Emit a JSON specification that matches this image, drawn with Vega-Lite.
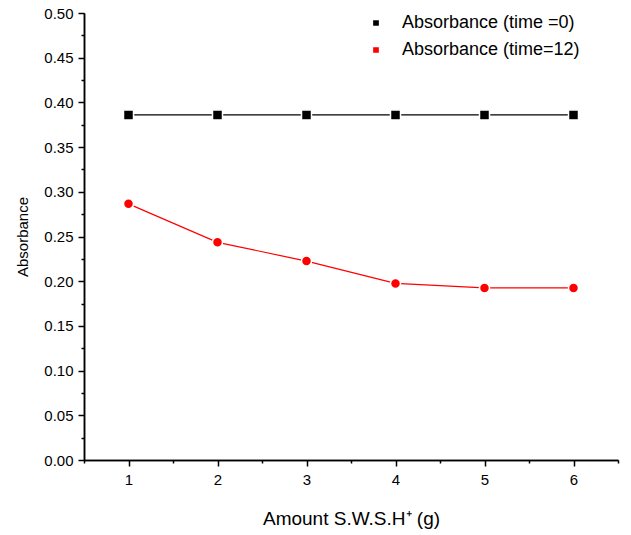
{
  "$schema": "https://vega.github.io/schema/vega-lite/v6.json",
  "width": 534,
  "height": 447,
  "autosize": {"type": "none"},
  "padding": {"left": 84, "top": 13, "right": 13, "bottom": 75},
  "background": "white",
  "config": {
    "view": {"stroke": null},
    "font": "Liberation Sans",
    "axis": {
      "domainColor": "black",
      "domainWidth": 1.5,
      "tickColor": "black",
      "tickWidth": 1.5,
      "labelColor": "black",
      "titleColor": "black",
      "labelFont": "Liberation Sans",
      "titleFont": "Liberation Sans",
      "grid": false
    }
  },
  "datasets": {
    "abs": [
      {"amount": 1, "absorbance": 0.386, "series": "Absorbance (time =0)"},
      {"amount": 2, "absorbance": 0.386, "series": "Absorbance (time =0)"},
      {"amount": 3, "absorbance": 0.386, "series": "Absorbance (time =0)"},
      {"amount": 4, "absorbance": 0.386, "series": "Absorbance (time =0)"},
      {"amount": 5, "absorbance": 0.386, "series": "Absorbance (time =0)"},
      {"amount": 6, "absorbance": 0.386, "series": "Absorbance (time =0)"},
      {"amount": 1, "absorbance": 0.2865, "series": "Absorbance (time=12)"},
      {"amount": 2, "absorbance": 0.2435, "series": "Absorbance (time=12)"},
      {"amount": 3, "absorbance": 0.2225, "series": "Absorbance (time=12)"},
      {"amount": 4, "absorbance": 0.1975, "series": "Absorbance (time=12)"},
      {"amount": 5, "absorbance": 0.1925, "series": "Absorbance (time=12)"},
      {"amount": 6, "absorbance": 0.1925, "series": "Absorbance (time=12)"}
    ]
  },
  "data": {"name": "abs"},
  "layer": [
    {
      "transform": [{"filter": "datum.series === 'Absorbance (time =0)'"}],
      "mark": {"type": "line", "strokeWidth": 1.2, "color": "#000000"},
      "encoding": {
        "x": {
          "field": "amount", "type": "quantitative",
          "scale": {"domain": [0.5, 6.5], "nice": false, "zero": false},
          "axis": {
            "orient": "bottom", "values": [0.5, 1.5, 2.5, 3.5, 4.5, 5.5, 6.5],
            "labels": false, "tickSize": 3, "title": null, "domain": true
          }
        },
        "y": {
          "field": "absorbance", "type": "quantitative",
          "scale": {"domain": [0, 0.5], "nice": false, "zero": true},
          "axis": {
            "orient": "left",
            "values": [0.025, 0.075, 0.125, 0.175, 0.225, 0.275, 0.325, 0.375, 0.425, 0.475],
            "labels": false, "tickSize": 3, "title": null, "domain": true
          }
        }
      }
    },
    {
      "transform": [{"filter": "datum.series === 'Absorbance (time=12)'"}],
      "mark": {"type": "line", "strokeWidth": 1.2, "color": "#ff0000"},
      "encoding": {
        "x": {"field": "amount", "type": "quantitative", "axis": null},
        "y": {"field": "absorbance", "type": "quantitative", "axis": null}
      }
    },
    {
      "transform": [{"filter": "datum.series === 'Absorbance (time =0)'"}],
      "mark": {"type": "point", "shape": "square", "filled": true, "size": 100, "stroke": "white", "strokeWidth": 1.5, "opacity": 1},
      "encoding": {
        "x": {
          "field": "amount", "type": "quantitative",
          "axis": {
            "orient": "bottom", "values": [1, 2, 3, 4, 5, 6], "format": "d",
            "tickSize": 6, "labelFontSize": 15, "labelPadding": 6,
            "title": "Amount S.W.S.H⁺ (g)", "titleFontSize": 19, "titleFontWeight": "normal",
            "titlePadding": 22
          }
        },
        "y": {
          "field": "absorbance", "type": "quantitative",
          "axis": {
            "orient": "left", "values": [0, 0.05, 0.1, 0.15, 0.2, 0.25, 0.3, 0.35, 0.4, 0.45, 0.5],
            "format": ".2f", "tickSize": 6, "labelFontSize": 15, "labelPadding": 5,
            "title": "Absorbance", "titleFontSize": 15, "titleFontWeight": "normal",
            "titlePadding": 13
          }
        },
        "fill": {
          "field": "series", "type": "nominal",
          "scale": {"domain": ["Absorbance (time =0)", "Absorbance (time=12)"], "range": ["#000000", "#ff0000"]},
          "legend": {
            "title": null,
            "orient": "none",
            "legendX": 283,
            "legendY": 1,
            "padding": 0,
            "symbolSize": 16,
            "symbolType": "M-10.25,0H-3.5M3.5,0H10.25M-1.8,-1.8H1.8V1.8H-1.8Z",
            "labelFontSize": 18,
            "labelFont": "Liberation Sans",
            "labelColor": "black",
            "labelOffset": 17,
            "rowPadding": 9,
            "labelLimit": 300,
            "encode": {
              "symbols": {
                "shape": {"condition": {"test": "datum.value === 'Absorbance (time=12)'", "value": "M-10.25,0H-3.5M3.5,0H10.25M-2,0A2,2 0 1,1 2,0A2,2 0 1,1 -2,0Z"}, "value": "M-10.25,0H-3.5M3.5,0H10.25M-1.8,-1.8H1.8V1.8H-1.8Z"},
                "size": {"value": 16},
                "fill": {"condition": {"test": "datum.value === 'Absorbance (time=12)'", "value": "#ff0000"}, "value": "#000000"},
                "stroke": {"condition": {"test": "datum.value === 'Absorbance (time=12)'", "value": "#ff0000"}, "value": "#000000"},
                "strokeWidth": {"value": 1},
                "opacity": {"value": 1},
                "fillOpacity": {"value": 1},
                "strokeOpacity": {"value": 1}
              }
            }
          }
        }
      }
    },
    {
      "transform": [{"filter": "datum.series === 'Absorbance (time=12)'"}],
      "mark": {"type": "point", "shape": "circle", "filled": true, "size": 100, "stroke": "white", "strokeWidth": 1.5, "opacity": 1},
      "encoding": {
        "x": {"field": "amount", "type": "quantitative", "axis": null},
        "y": {"field": "absorbance", "type": "quantitative", "axis": null},
        "fill": {
          "field": "series", "type": "nominal",
          "scale": {"domain": ["Absorbance (time =0)", "Absorbance (time=12)"], "range": ["#000000", "#ff0000"]},
          "legend": {
            "title": null,
            "orient": "none",
            "legendX": 283,
            "legendY": 1,
            "padding": 0,
            "symbolSize": 16,
            "symbolType": "M-10.25,0H-3.5M3.5,0H10.25M-1.8,-1.8H1.8V1.8H-1.8Z",
            "labelFontSize": 18,
            "labelFont": "Liberation Sans",
            "labelColor": "black",
            "labelOffset": 17,
            "rowPadding": 9,
            "labelLimit": 300,
            "encode": {
              "symbols": {
                "shape": {"condition": {"test": "datum.value === 'Absorbance (time=12)'", "value": "M-10.25,0H-3.5M3.5,0H10.25M-2,0A2,2 0 1,1 2,0A2,2 0 1,1 -2,0Z"}, "value": "M-10.25,0H-3.5M3.5,0H10.25M-1.8,-1.8H1.8V1.8H-1.8Z"},
                "size": {"value": 16},
                "fill": {"condition": {"test": "datum.value === 'Absorbance (time=12)'", "value": "#ff0000"}, "value": "#000000"},
                "stroke": {"condition": {"test": "datum.value === 'Absorbance (time=12)'", "value": "#ff0000"}, "value": "#000000"},
                "strokeWidth": {"value": 1},
                "opacity": {"value": 1},
                "fillOpacity": {"value": 1},
                "strokeOpacity": {"value": 1}
              }
            }
          }
        }
      }
    }
  ],
  "resolve": {"axis": {"x": "independent", "y": "independent"}}
}
